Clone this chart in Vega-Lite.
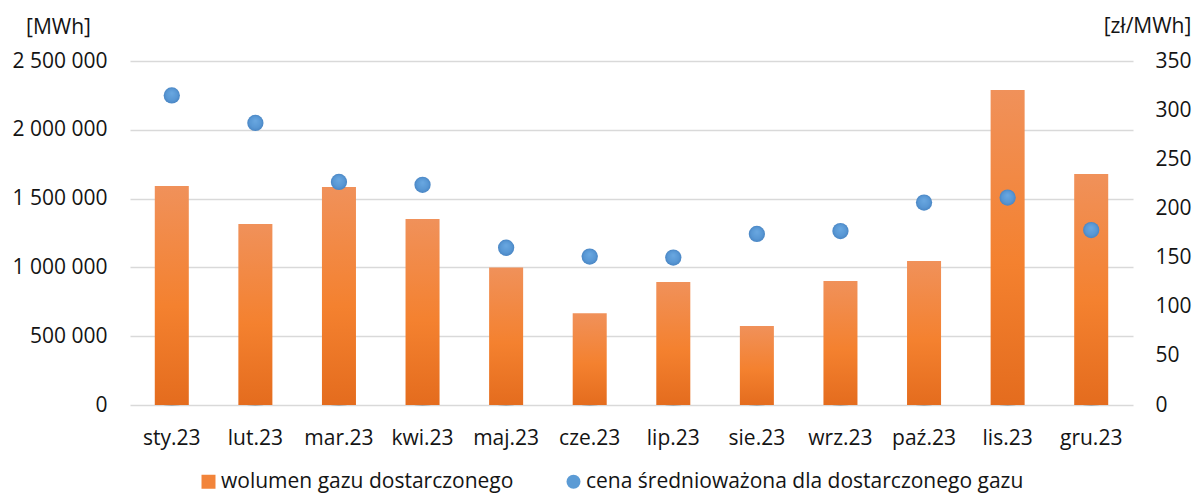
{
  "$schema": "https://vega.github.io/schema/vega-lite/v6.json",
  "width": 1003,
  "height": 344,
  "autosize": {"type": "none"},
  "padding": {"left": 130, "top": 61, "right": 64, "bottom": 88},
  "background": "#ffffff",
  "config": {
    "font": "Open Sans",
    "view": {"stroke": null},
    "axis": {
      "labelFont": "Open Sans",
      "labelFontSize": 21,
      "labelColor": "#141414",
      "titleFont": "Open Sans",
      "titleFontSize": 21,
      "titleFontWeight": "normal",
      "titleColor": "#141414",
      "domain": false,
      "ticks": false
    },
    "legend": {
      "labelFont": "Open Sans",
      "labelFontSize": 21,
      "labelColor": "#141414",
      "labelLimit": 600,
      "padding": 0
    }
  },
  "datasets": {
    "miesiace": [
      {"miesiac": "sty.23", "wolumen": 1592000, "cena": 315},
      {"miesiac": "lut.23", "wolumen": 1315000, "cena": 287},
      {"miesiac": "mar.23", "wolumen": 1584000, "cena": 227},
      {"miesiac": "kwi.23", "wolumen": 1352000, "cena": 224},
      {"miesiac": "maj.23", "wolumen": 1000000, "cena": 160},
      {"miesiac": "cze.23", "wolumen": 667000, "cena": 151},
      {"miesiac": "lip.23", "wolumen": 894000, "cena": 150},
      {"miesiac": "sie.23", "wolumen": 575000, "cena": 174},
      {"miesiac": "wrz.23", "wolumen": 901000, "cena": 177},
      {"miesiac": "paź.23", "wolumen": 1046000, "cena": 206},
      {"miesiac": "lis.23", "wolumen": 2289000, "cena": 211},
      {"miesiac": "gru.23", "wolumen": 1679000, "cena": 178}
    ],
    "serie": [
      {"seria": "wolumen gazu dostarczonego"},
      {"seria": "cena średnioważona dla dostarczonego gazu"}
    ]
  },
  "layer": [
    {
      "data": {"name": "miesiace"},
      "encoding": {
        "x": {
          "field": "miesiac",
          "type": "nominal",
          "sort": null,
          "scale": {"paddingInner": 0.593, "paddingOuter": 0.2965},
          "axis": {"title": null, "labelAngle": 0, "labelPadding": 22, "grid": false}
        },
        "y": {
          "field": "wolumen",
          "type": "quantitative",
          "scale": {"domain": [0, 2500000], "nice": false},
          "axis": {
            "orient": "left",
            "values": [0, 500000, 1000000, 1500000, 2000000, 2500000],
            "labelExpr": "replace(replace(format(datum.value, ','), ',', ' '), ',', ' ')",
            "labelPadding": 23,
            "grid": true,
            "gridColor": "#D9D9D9",
            "gridWidth": 1.6,
            "title": "[MWh]",
            "titleAngle": 0,
            "titleAlign": "center",
            "titleBaseline": "alphabetic",
            "titleX": -72,
            "titleY": -28
          }
        }
      },
      "layer": [
        {
          "mark": {
            "type": "bar",
            "width": {"band": 0.5},
            "yOffset": 2,
            "fill": {
              "gradient": "linear",
              "x1": 0, "y1": 0, "x2": 1, "y2": 0,
              "stops": [
                {"offset": 0, "color": "rgba(0,0,0,0)"},
                {"offset": 0.1, "color": "rgba(0,0,0,0.08)"},
                {"offset": 0.5, "color": "rgba(0,0,0,0.22)"},
                {"offset": 0.9, "color": "rgba(0,0,0,0.08)"},
                {"offset": 1, "color": "rgba(0,0,0,0)"}
              ]
            }
          },
          "encoding": {"y2": {"datum": -8000}}
        },
        {
          "mark": {
            "type": "bar",
            "fill": {
              "gradient": "linear",
              "x1": 0, "y1": 0, "x2": 0, "y2": 1,
              "stops": [
                {"offset": 0, "color": "#F0915A"},
                {"offset": 0.55, "color": "#F4812F"},
                {"offset": 1, "color": "#E46C1E"}
              ]
            }
          }
        }
      ]
    },
    {
      "data": {"name": "miesiace"},
      "mark": {
        "type": "circle",
        "size": 265,
        "opacity": 1,
        "fill": {
          "gradient": "radial",
          "x1": 0.5, "y1": 0.35, "r1": 0,
          "x2": 0.5, "y2": 0.5, "r2": 0.5,
          "stops": [
            {"offset": 0, "color": "#6AA8E1"},
            {"offset": 0.7, "color": "#5897D4"},
            {"offset": 1, "color": "#4A86C4"}
          ]
        }
      },
      "encoding": {
        "x": {"field": "miesiac", "type": "nominal", "sort": null},
        "y": {
          "field": "cena",
          "type": "quantitative",
          "scale": {"domain": [0, 350], "nice": false},
          "axis": {
            "orient": "right",
            "values": [0, 50, 100, 150, 200, 250, 300, 350],
            "labelPadding": 22,
            "grid": false,
            "title": "[zł/MWh]",
            "titleAngle": 0,
            "titleAlign": "center",
            "titleBaseline": "alphabetic",
            "titleX": 14,
            "titleY": -29
          }
        }
      }
    },
    {
      "data": {"name": "serie"},
      "mark": {"type": "point", "filled": true, "opacity": 0},
      "encoding": {
        "color": {
          "field": "seria",
          "type": "nominal",
          "sort": null,
          "scale": {
            "domain": ["wolumen gazu dostarczonego", "cena średnioważona dla dostarczonego gazu"],
            "range": ["#F2843A", "#5B9BD5"]
          },
          "legend": {
            "title": null,
            "orient": "none",
            "direction": "horizontal",
            "legendX": 68,
            "legendY": 410,
            "symbolSize": 196,
            "symbolStrokeWidth": 0,
            "symbolOpacity": 1,
            "labelOffset": 2,
            "columnPadding": 49
          }
        },
        "shape": {
          "field": "seria",
          "type": "nominal",
          "sort": null,
          "scale": {
            "domain": ["wolumen gazu dostarczonego", "cena średnioważona dla dostarczonego gazu"],
            "range": ["square", "circle"]
          },
          "legend": {
            "title": null,
            "orient": "none",
            "direction": "horizontal",
            "legendX": 68,
            "legendY": 410,
            "symbolSize": 196,
            "symbolStrokeWidth": 0,
            "symbolOpacity": 1,
            "labelOffset": 2,
            "columnPadding": 49
          }
        }
      }
    }
  ],
  "resolve": {"scale": {"y": "independent"}}
}
